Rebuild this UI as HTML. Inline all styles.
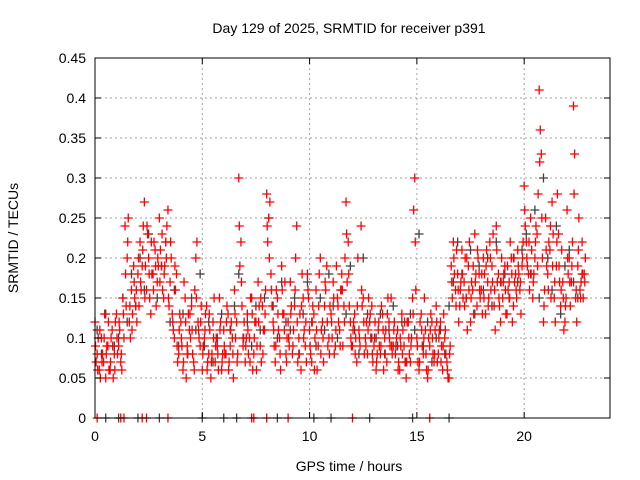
<!DOCTYPE html>
<html><head><meta charset="utf-8"><style>
html,body{margin:0;padding:0;background:#fff;}
svg{display:block;font-family:"Liberation Sans",sans-serif;}
</style></head><body>
<svg id="chart" width="640" height="480" viewBox="0 0 640 480">
<rect x="0" y="0" width="640" height="480" fill="#fff"/>
<text x="349" y="33" font-size="14" text-anchor="middle">Day 129 of 2025, SRMTID for receiver p391</text>
<text x="349" y="471" font-size="14" text-anchor="middle">GPS time / hours</text>
<text x="18" y="238" font-size="14" text-anchor="middle" transform="rotate(-90 18 238)">SRMTID / TECUs</text>
<g id="grid"></g>
<g id="gray"></g>
<g id="red"></g>
<g id="axes"></g>
</svg>
<script>
const xTicks=[0,5,10,15,20];
const yTicks=[0,0.05,0.1,0.15,0.2,0.25,0.3,0.35,0.4,0.45];
const yTickLabels=["0","0.05","0.1","0.15","0.2","0.25","0.3","0.35","0.4","0.45"];
const redStep=0.1, grayStep=0.2;
const redA=[.12,.08,.06,.10,.07,.05,.09,.06,.11,.08,
.13,.09,.07,.15,.24,.20,.12,.16,.19,.14,
.18,.22,.19,.27,.16,.20,.13,.18,.21,.17,
.25,.19,.15,.22,.26,.17,.13,.10,.18,.08,
.12,.06,.15,.09,.11,.14,.07,.20,.12,.09,
.06,.10,.14,.08,.05,.12,.07,.09,.15,.06,
.11,.08,.13,.09,.10,.16,.12,.30,.22,.09,
.07,.13,.10,.15,.08,.12,.17,.09,.14,.11,
.28,.25,.18,.12,.07,.15,.10,.19,.13,.08,
.12,.17,.08,.14,.24,.10,.06,.15,.09,.18,
.11,.07,.13,.16,.09,.20,.12,.14,.19,.10,
.13,.17,.09,.15,.11,.18,.14,.27,.22,.12,
.09,.13,.07,.11,.24,.15,.10,.08,.12,.14,
.09,.06,.11,.08,.13,.10,.07,.12,.15,.09,
.08,.11,.06,.13,.09,.05,.12,.07,.15,.30,
.10,.06,.13,.08,.11,.05,.09,.12,.07,.14,
.08,.12,.06,.10,.07,.05,.19,.22,.16,.18,
.14,.21,.17,.15,.19,.12,.16,.23,.14,.18,
.16,.20,.13,.17,.22,.19,.14,.24,.18,.12,
.15,.19,.13,.17,.20,.14,.18,.21,.16,.19,
.29,.22,.18,.25,.15,.20,.23,.41,.33,.12,
.25,.18,.21,.27,.15,.19,.23,.14,.17,.12,
.26,.20,.17,.39,.15,.19,.16,.22,.18];
const redB=[.07,.10,.05,.08,.13,.09,.06,.10,.05,.12,
.08,.11,.06,.10,.14,.25,.10,.13,.15,.12,
.14,.16,.24,.19,.23,.15,.18,.22,.14,.19,
.21,.16,.19,.24,.14,.20,.11,.16,.07,.13,
.09,.17,.05,.13,.10,.08,.16,.22,.10,.14,
.09,.13,.07,.11,.08,.15,.10,.06,.12,.08,
.08,.14,.07,.12,.05,.10,.08,.19,.14,.12,
.10,.08,.15,.06,.12,.09,.14,.07,.11,.16,
.22,.27,.14,.09,.16,.11,.06,.13,.17,.10,
.09,.14,.11,.20,.07,.13,.18,.11,.07,.15,
.08,.14,.10,.06,.18,.11,.07,.16,.09,.14,
.10,.08,.19,.12,.16,.09,.20,.17,.14,.09,
.12,.10,.20,.09,.14,.08,.12,.15,.10,.07,
.12,.08,.09,.14,.06,.11,.15,.09,.08,.12,
.10,.07,.09,.11,.07,.12,.08,.10,.26,.16,
.07,.12,.09,.15,.06,.10,.13,.08,.11,.07,
.11,.09,.13,.08,.05,.09,.15,.18,.21,.12,
.17,.15,.20,.11,.22,.17,.13,.18,.20,.15,
.13,.18,.21,.15,.16,.23,.11,.17,.14,.20,
.18,.13,.16,.22,.12,.17,.15,.18,.13,.22,
.24,.19,.16,.21,.18,.24,.28,.36,.20,.16,
.19,.22,.15,.23,.12,.28,.17,.21,.11,.15,
.18,.14,.22,.33,.12,.25,.17,.15,.20];
const redC=[.09,.06,.11,.07,.10,.08,.12,.07,.09,.06,
.10,.12,.08,.13,.18,.22,.14,.11,.17,.16,
.20,.17,.21,.15,.24,.18,.22,.16,.19,.20,
.17,.23,.18,.20,.15,.22,.12,.19,.09,.11,
.10,.07,.12,.08,.13,.11,.06,.15,.11,.12,
.08,.11,.06,.13,.07,.10,.09,.08,.11,.07,
.09,.12,.06,.11,.08,.13,.07,.24,.17,.10,
.09,.11,.07,.13,.10,.06,.12,.15,.08,.13,
.24,.20,.16,.11,.09,.13,.08,.16,.11,.07,
.10,.13,.09,.16,.12,.08,.14,.10,.12,.16,
.09,.12,.06,.11,.14,.08,.10,.17,.12,.08,
.12,.15,.11,.14,.09,.16,.12,.23,.18,.10,
.11,.08,.14,.10,.16,.12,.09,.11,.13,.08,
.10,.07,.12,.09,.11,.08,.13,.10,.09,.11,
.09,.06,.10,.08,.12,.07,.10,.09,.13,.22,
.09,.07,.11,.10,.08,.06,.11,.10,.08,.12,
.10,.07,.09,.11,.06,.08,.17,.20,.14,.16,
.16,.18,.14,.20,.16,.15,.19,.17,.21,.16,
.18,.15,.19,.14,.20,.17,.16,.21,.15,.17,
.17,.16,.19,.15,.18,.20,.16,.19,.17,.20,
.26,.20,.22,.18,.17,.22,.19,.32,.25,.14,
.21,.16,.24,.19,.17,.22,.19,.16,.15,.14,
.20,.17,.19,.28,.16,.21,.15,.18,.17];
const grayVals=[.11,.08,.13,.06,.09,.10,.15,.12,.18,.14,
.20,.16,.23,.18,.15,.19,.22,.12,.16,.09,
.13,.08,.15,.11,.18,.09,.12,.07,.10,.13,
.08,.11,.14,.18,.10,.12,.09,.14,.11,.15,
.25,.14,.10,.17,.12,.11,.15,.08,.13,.17,
.12,.09,.15,.11,.18,.14,.10,.16,.13,.19,
.11,.08,.20,.13,.10,.10,.13,.08,.11,.14,
.09,.12,.07,.13,.11,.23,.09,.12,.07,.10,
.11,.08,.14,.17,.22,.18,.15,.21,.13,.19,
.16,.20,.14,.22,.17,.18,.15,.20,.17,.21,
.23,.18,.26,.15,.30,.20,.16,.24,.13,.19,
.21,.17,.15,.18];
const redZeroHours=[0.1,1.2,1.35,2.2,2.4,3.4,7.3,7.4,8.0,9.0,12.0,15.6];
const grayZeroHours=[0.5,1.1,2.0,3.0,5.0,6.0,6.6,8.5,10.2,11.0,12.8,14.8,16.5];

const L=95,R=610,T=58,B=418,XMAX=24,YMAX=0.45;
const xs=h=>L+(R-L)*h/XMAX;
const ys=v=>B-(B-T)*v/YMAX;
const NS="http://www.w3.org/2000/svg";
function mk(tag,attrs,parent){const e=document.createElementNS(NS,tag);for(const k in attrs)e.setAttribute(k,attrs[k]);parent.appendChild(e);return e;}
const grid=document.getElementById('grid'),axes=document.getElementById('axes');
yTicks.forEach((v,i)=>{
  const y=ys(v);
  if(i>0&&i<yTicks.length-1){const g=mk('line',{x1:L,x2:R,y1:y,y2:y,stroke:'#a0a0a0','stroke-dasharray':'2,3','stroke-width':1},grid);
  
  }
  mk('line',{x1:L,x2:L+6,y1:y,y2:y,stroke:'#000'},axes);
  mk('line',{x1:R,x2:R-6,y1:y,y2:y,stroke:'#000'},axes);
  const t=mk('text',{x:L-9,y:y+5,'font-size':14,'text-anchor':'end'},axes);
  t.textContent=yTickLabels[i];
  
  
});
xTicks.forEach(h=>{
  const x=xs(h);
  if(h>0){const g=mk('line',{x1:x,x2:x,y1:T,y2:B,stroke:'#a0a0a0','stroke-dasharray':'2,3','stroke-width':1},grid);
  
  }
  mk('line',{x1:x,x2:x,y1:B,y2:B-6,stroke:'#000'},axes);
  mk('line',{x1:x,x2:x,y1:T,y2:T+6,stroke:'#000'},axes);
  const t=mk('text',{x:x,y:B+23,'font-size':14,'text-anchor':'middle'},axes);
  t.textContent=String(h);
  
  
});
const frame=mk('rect',{x:L,y:T,width:R-L,height:B-T,fill:'none',stroke:'#000','stroke-width':1},axes);



function plus(h,v,color,parent){
  const x=xs(h),y=ys(v);
  const p=mk('path',{d:`M${x-4.5},${y}H${x+4.5}M${x},${y-4.5}V${y+4.5}`,stroke:color,'stroke-width':1.3,fill:'none'},parent);
  
  
}
const gG=document.getElementById('gray'),gR=document.getElementById('red');
const GRAY='#404040',RED='#ff0000';
grayVals.forEach((v,i)=>plus(i*grayStep+0.1,v,GRAY,gG));
grayZeroHours.forEach(h=>plus(h,0,GRAY,gG));
redA.forEach((v,i)=>plus(i*redStep,v,RED,gR));
redB.forEach((v,i)=>plus(i*redStep+0.05,v,RED,gR));
redC.forEach((v,i)=>plus(i*redStep+0.025,v,RED,gR));
redZeroHours.forEach(h=>plus(h,0,RED,gR));
</script>
</body></html>
